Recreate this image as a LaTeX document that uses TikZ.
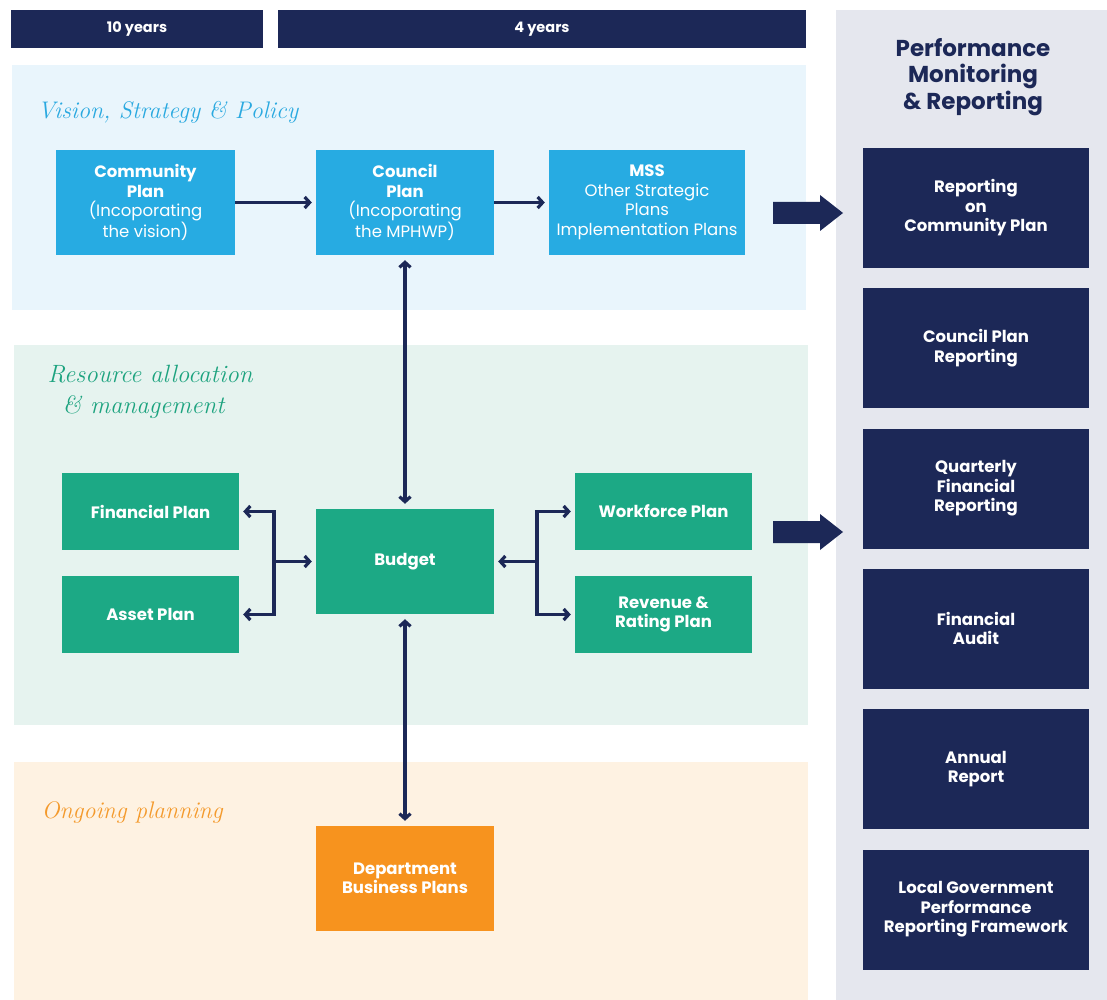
\documentclass[tikz,border=0pt]{standalone}
\usepackage{fontspec}
\newfontfamily\pop{Poppins}
\usetikzlibrary{arrows.meta}
\definecolor{navy}{HTML}{1C2857}
\definecolor{cyanbox}{HTML}{27ABE2}
\definecolor{greenbox}{HTML}{1CA985}
\definecolor{orangebox}{HTML}{F7931E}
\definecolor{bandblue}{HTML}{E9F5FC}
\definecolor{bandgreen}{HTML}{E6F3EF}
\definecolor{bandorange}{HTML}{FEF2E2}
\definecolor{panelgray}{HTML}{E5E7EE}
\definecolor{scriptblue}{HTML}{2AA9E0}
\definecolor{scriptgreen}{HTML}{1DA37F}
\definecolor{scriptorange}{HTML}{F49A2C}
\tikzset{
  box/.style={inner sep=2pt, align=center, text=white, font=\pop\fontsize{16.5}{19.5}\selectfont},
  cbox/.style={box, fill=cyanbox, minimum height=105pt},
  gbox/.style={box, fill=greenbox},
  nbox/.style={box, fill=navy, minimum width=226pt, minimum height=120pt},
  bar/.style={fill=navy, text=white, inner sep=0pt, font=\pop\bfseries\fontsize{14.5}{16}\selectfont},
  conn/.style={draw=navy, line width=3.2pt, -{Straight Barb[length=5pt,width=11pt]}, shorten >=4pt},
  conn2/.style={draw=navy, line width=3.2pt, {Straight Barb[length=5pt,width=11pt]}-{Straight Barb[length=5pt,width=11pt]}, shorten >=5pt, shorten <=5pt},
  hand/.style={font=\itshape\fontsize{24}{32}\selectfont, anchor=west, align=left}
}
\begin{document}
\begin{tikzpicture}[x=1pt,y=-1pt]
\useasboundingbox (0,0) rectangle (1107,1000);
\fill[white] (0,0) rectangle (1107,1000);
% bands
\fill[bandblue] (12,65) rectangle (806,310);
\fill[bandgreen] (14,345) rectangle (808,725);
\fill[bandorange] (14,762) rectangle (808,1000);
\fill[panelgray] (836,10) rectangle (1107,1000);
% top bars
\node[bar, minimum width=252pt, minimum height=38pt] (b10) at (137,29) {10 years};
\node[bar, minimum width=528pt, minimum height=38pt] (b4) at (542,29) {4 years};
% band labels
\node[hand, text=scriptblue] (lvis) at (34,112) {Vision, Strategy \& Policy};
\node[hand, text=scriptgreen, font=\itshape\fontsize{25}{33}\selectfont] (lres) at (44,392) {Resource allocation\\[-2pt]\hspace*{0.6em}\& management};
\node[hand, text=scriptorange] (lon) at (38,812) {Ongoing planning};
% vision boxes
\node[cbox, minimum width=179pt] (comm) at (145.5,202.5) {\bfseries Community\\\bfseries Plan\\(Incoporating\\the vision)};
\node[cbox, minimum width=178pt] (council) at (405,202.5) {\bfseries Council\\\bfseries Plan\\(Incoporating\\the MPHWP)};
\node[cbox, minimum width=196pt] (mss) at (647,202.5) {\bfseries MSS\\Other Strategic\\Plans\\Implementation Plans};
% resource boxes
\node[gbox, minimum width=178pt, minimum height=105pt] (budget) at (405,561.5) {\bfseries Budget};
\node[gbox, minimum width=177pt, minimum height=77pt] (fin) at (150.5,511.5) {\bfseries Financial Plan};
\node[gbox, minimum width=177pt, minimum height=77pt] (asset) at (150.5,614.5) {\bfseries Asset Plan};
\node[gbox, minimum width=177pt, minimum height=77pt] (work) at (663.5,511.5) {\bfseries Workforce Plan};
\node[gbox, minimum width=177pt, minimum height=77pt] (rev) at (663.5,614.5) {\bfseries Revenue \&\\\bfseries Rating Plan};
% ongoing
\node[box, fill=orangebox, minimum width=178pt, minimum height=105pt] (dept) at (405,878.5) {\bfseries Department\\\bfseries Business Plans};
% right panel
\node[align=center, text=navy, font=\pop\bfseries\fontsize{23}{26.5}\selectfont] (ptitle) at (973,77) {Performance\\Monitoring\\\& Reporting};
\node[nbox] (r1) at (976,208) {\bfseries Reporting\\\bfseries on\\\bfseries Community Plan};
\node[nbox] (r2) at (976,348) {\bfseries Council Plan\\\bfseries Reporting};
\node[nbox] (r3) at (976,488.5) {\bfseries Quarterly\\\bfseries Financial\\\bfseries Reporting};
\node[nbox] (r4) at (976,628.5) {\bfseries Financial\\\bfseries Audit};
\node[nbox] (r5) at (976,769) {\bfseries Annual\\\bfseries Report};
\node[nbox] (r6) at (976,909.5) {\bfseries Local Government\\\bfseries Performance\\\bfseries Reporting Framework};
% big arrows
\fill[navy] (773,202) -- (820,202) -- (820,195) -- (843,213) -- (820,231) -- (820,224) -- (773,224) -- cycle;
\fill[navy] (773,521) -- (820,521) -- (820,514) -- (843,532) -- (820,550) -- (820,543) -- (773,543) -- cycle;
% connectors
\draw[conn] (comm.east) -- (council.west);
\draw[conn] (council.east) -- (mss.west);
\draw[conn2] (council.south) -- (budget.north);
\draw[conn2] (budget.south) -- (dept.north);
\coordinate (jl) at (274,561.5);
\coordinate (jr) at (537,561.5);
\draw[conn] (jl) |- (fin.east);
\draw[conn] (jl) |- (asset.east);
\draw[conn] (jl) -- (budget.west);
\draw[conn] (jr) |- (work.west);
\draw[conn] (jr) |- (rev.west);
\draw[conn] (jr) -- (budget.east);
\end{tikzpicture}
\end{document}
